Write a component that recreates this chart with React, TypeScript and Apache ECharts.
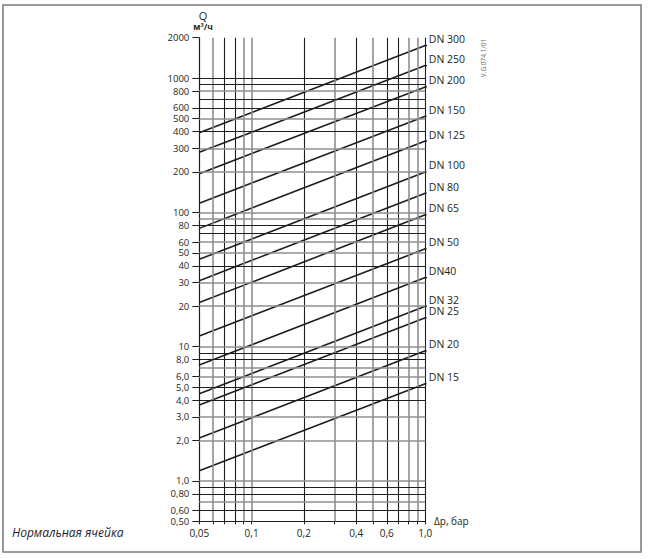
import React, { useEffect, useRef } from 'react';
import * as echarts from 'echarts';

// DN lines: flow Q (m3/h) read at the left edge (dp = 0.05 bar) and at the right edge (dp = 1.0 bar)
const dnNames = ['DN 300', 'DN 250', 'DN 200', 'DN 150', 'DN 125', 'DN 100', 'DN 80', 'DN 65', 'DN 50', 'DN40', 'DN 32', 'DN 25', 'DN 20', 'DN 15'];
const qAtDpMin = [392, 280, 194, 117, 76, 44.7, 31, 21.3, 12, 7.3, 4.45, 3.67, 2.09, 1.19];
const qAtDpMax = [1750, 1240, 860, 520, 340, 200, 139, 96, 53.5, 32.7, 20, 16.4, 9.3, 5.3];
const underlineGray = [false, false, false, true, false, true, true, true, true, false, false, true, true, true];

const dpMin = 0.05;
const dpMax = 1.0;
const dpLabelLineEnd = 1.655;
const qMin = 0.5;
const qMax = 2000;

const xGridValues = [0.05, 0.06, 0.07, 0.08, 0.09, 0.1, 0.2, 0.3, 0.4, 0.5, 0.6, 0.7, 0.8, 0.9, 1.0];
const xGridGray = [false, true, false, false, true, true, false, true, false, true, false, false, true, true, false];
const yGridValues = [0.5, 0.6, 0.7, 0.8, 0.9, 1, 2, 3, 4, 5, 6, 7, 8, 9, 10, 20, 30, 40, 50, 60, 70, 80, 90, 100, 200, 300, 400, 500, 600, 700, 800, 900, 1000];
const yGridGray = [false, false, true, false, false, true, true, true, false, false, true, true, false, false, true, true, true, false, true, true, false, false, true, true, true, true, false, true, false, false, true, false, false];

const xLabelValues = [0.05, 0.1, 0.2, 0.4, 0.6, 1.0];
const yLabelValues = [0.5, 0.6, 0.8, 1, 2, 3, 4, 5, 6, 8, 10, 20, 30, 40, 50, 60, 80, 100, 200, 300, 400, 500, 600, 800, 1000, 2000];

const DARK = '#1e1e1e';
const GRAY = '#8f8f8f';
const TEXT = '#231f20';
const FONT = "'Open Sans', 'Noto Sans', sans-serif";

function fmtX(v: number): string {
  if (Math.abs(v - 1) < 1e-9) return '1,0';
  const r = Math.round(v * 100) / 100;
  return String(r).replace('.', ',');
}
function fmtY(v: number): string {
  if (v >= 10 - 1e-9) return String(Math.round(v));
  if (v >= 1 - 1e-9) return v.toFixed(1).replace('.', ',');
  return v.toFixed(2).replace('.', ',');
}

export default function App() {
  const ref = useRef<HTMLDivElement>(null);
  useEffect(() => {
    if (!ref.current) return;
    const chart = echarts.init(ref.current, undefined, { renderer: 'svg' });

    const gridMarks: any[] = [];
    xGridValues.forEach((v, i) => {
      gridMarks.push({ xAxis: v, lineStyle: { color: xGridGray[i] ? GRAY : DARK, width: xGridGray[i] ? 1.6 : 1.1, type: 'solid' } });
    });
    yGridValues.forEach((v, i) => {
      gridMarks.push({ yAxis: v, lineStyle: { color: yGridGray[i] ? GRAY : DARK, width: yGridGray[i] ? 1.6 : 1.1, type: 'solid' } });
    });

    const series: any[] = [
      {
        name: 'grid',
        type: 'line',
        data: [],
        z: 1,
        silent: true,
        markLine: {
          silent: true,
          symbol: ['none', 'none'],
          label: { show: false },
          emphasis: { disabled: true },
          data: gridMarks,
        },
      },
    ];

    dnNames.forEach((name, i) => {
      series.push({
        name,
        type: 'line',
        z: 3,
        symbol: 'none',
        silent: true,
        lineStyle: { color: DARK, width: 1.6 },
        data: [
          [dpMin, qAtDpMin[i]],
          [dpMax, qAtDpMax[i]],
        ],
      });
      series.push({
        name: name + ' underline',
        type: 'line',
        z: 3,
        symbol: 'none',
        silent: true,
        clip: false,
        lineStyle: { color: underlineGray[i] ? GRAY : DARK, width: underlineGray[i] ? 1.6 : 1.3 },
        data: [
          [dpMax, qAtDpMax[i]],
          [dpLabelLineEnd, qAtDpMax[i]],
        ],
      });
      series.push({
        name: name + ' label',
        type: 'scatter',
        z: 4,
        silent: true,
        clip: false,
        symbol: 'circle',
        symbolSize: 1,
        itemStyle: { color: 'rgba(0,0,0,0)', opacity: 1 },
        label: {
          show: true,
          position: [4, -11.5],
          formatter: name,
          color: TEXT,
          opacity: 1,
          fontFamily: FONT,
          fontSize: 10.5,
          lineHeight: 11,
        },
        data: [[dpMax, qAtDpMax[i]]],
      });
    });

    chart.setOption({
      animation: false,
      backgroundColor: '#ffffff',
      grid: { left: 199.3, top: 37.7, width: 226, height: 483.6 },
      xAxis: {
        type: 'log',
        logBase: 10,
        min: dpMin,
        max: dpMax,
        axisLine: { show: true, lineStyle: { color: DARK, width: 1.1 } },
        axisTick: { show: true, length: 3, customValues: xGridValues, lineStyle: { color: DARK } },
        splitLine: { show: false },
        minorTick: { show: false },
        axisLabel: {
          customValues: xLabelValues,
          formatter: (v: number) => fmtX(v),
          color: TEXT,
          fontFamily: FONT,
          fontSize: 10,
          margin: 7,
        },
      },
      yAxis: {
        type: 'log',
        logBase: 10,
        min: qMin,
        max: qMax,
        axisLine: { show: true, lineStyle: { color: DARK, width: 1.1 } },
        axisTick: { show: true, length: 7, customValues: yLabelValues, lineStyle: { color: DARK } },
        splitLine: { show: false },
        minorTick: { show: false },
        axisLabel: {
          customValues: yLabelValues,
          formatter: (v: number) => fmtY(v),
          color: TEXT,
          fontFamily: FONT,
          fontSize: 9.5,
          lineHeight: 9,
          margin: 10,
        },
      },
      series,
      graphic: [
        {
          type: 'rect',
          shape: { x: 3, y: 5, width: 638, height: 547 },
          style: { fill: 'none', stroke: '#7a7a7a', lineWidth: 1.5 },
          silent: true,
        },
        {
          type: 'text',
          x: 203,
          y: 15,
          style: { text: 'Q', fill: TEXT, font: `11px ${FONT}`, textAlign: 'center', textVerticalAlign: 'middle' },
        },
        {
          type: 'text',
          x: 203,
          y: 26.5,
          style: { text: 'м³/ч', fill: TEXT, font: `bold 8.5px ${FONT}`, textAlign: 'center', textVerticalAlign: 'middle' },
        },
        {
          type: 'text',
          x: 434,
          y: 521,
          style: { text: 'Δp, бар', fill: TEXT, font: `10px ${FONT}`, textAlign: 'left', textVerticalAlign: 'middle' },
        },
        {
          type: 'text',
          x: 483,
          y: 58,
          rotation: Math.PI / 2,
          style: { text: 'V.G.074.1/01', fill: '#666666', font: `6.5px ${FONT}`, textAlign: 'center', textVerticalAlign: 'middle' },
        },
        {
          type: 'text',
          x: 12,
          y: 532,
          style: { text: 'Нормальная ячейка', fill: '#1b1b35', font: `italic 12px ${FONT}`, textAlign: 'left', textVerticalAlign: 'middle' },
        },
      ],
    });

    return () => {
      chart.dispose();
    };
  }, []);

  return (
    <div
      ref={ref}
      style={{ position: 'fixed', left: 0, top: 0, width: 648, height: 559, background: '#ffffff' }}
    />
  );
}
